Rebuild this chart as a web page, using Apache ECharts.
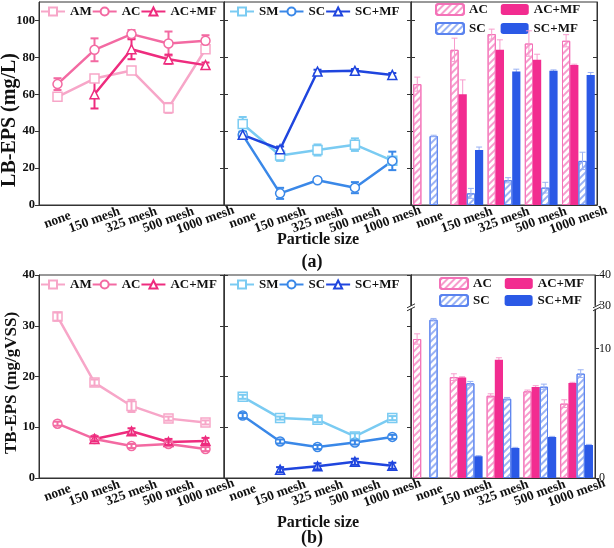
<!DOCTYPE html>
<html><head><meta charset="utf-8">
<script src="https://cdn.jsdelivr.net/npm/echarts@6/dist/echarts.min.js"></script>
<style>html,body{margin:0;padding:0;background:#fff}#c{width:614px;height:548px}</style>
</head><body><div id="c"></div>
<script>
// ---------- data ----------
const categories = ['none', '150 mesh', '325 mesh', '500 mesh', '1000 mesh'];

// (a) LB-EPS, line panels (mg/L)
const lbAM = [58.6, 68.5, 72.9, 52.6, 84.4];
const lbAMErr = [2, 1.5, 1.5, 2.7, 1.5];
const lbAC = [65.5, 84.1, 92.6, 87.5, 89.0];
const lbACErr = [3.2, 6.2, 2.2, 6.5, 3];
const lbACMF = [null, 60.0, 84.4, 79.0, 75.8];
const lbACMFErr = [null, 7.7, 5.4, 2.5, 1.4];
const lbSM = [43.9, 26.8, 29.8, 32.7, 24.0];
const lbSMErr = [3.8, 2.9, 3, 3.4, 2];
const lbSC = [38.0, 6.3, 13.4, 9.4, 23.9];
const lbSCErr = [1.5, 3, 1, 3, 5];
const lbSCMF = [38.0, 30.2, 72.3, 72.7, 70.5];
const lbSCMFErr = [1.5, 1.5, 1, 1, 1];

// (a) LB-EPS, bar panel
const lbBarAC = [65.5, 84.1, 92.6, 87.5, 89.0];
const lbBarACErr = [3.8, 6.3, 2.7, 6.9, 3.3];
const lbBarACMF = [null, 60.0, 84.1, 78.7, 75.8];
const lbBarACMFErr = [null, 7.8, 5.4, 3.0, 0.5];
const lbBarSC = [37.4, 6.3, 13.4, 9.4, 23.9];
const lbBarSCErr = [0.4, 2.7, 1.4, 2.9, 4.7];
const lbBarSCMF = [null, 29.8, 72.3, 72.7, 70.5];
const lbBarSCMFErr = [null, 1.6, 1.3, 0.5, 1.3];

// (b) TB-EPS, line panels (mg/gVSS)
const tbAM = [31.8, 18.8, 14.2, 11.7, 10.95];
const tbAMErr = [0.8, 0.6, 1.2, 0.4, 0.4];
const tbAC = [10.7, 7.7, 6.3, 6.7, 5.7];
const tbACErr = [0.4, 0.4, 0.4, 0.4, 0.4];
const tbACMF = [null, 7.7, 9.2, 7.1, 7.3];
const tbACMFErr = [null, 0.5, 0.6, 0.6, 0.6];
const tbSM = [16.0, 11.8, 11.5, 8.2, 11.8];
const tbSMErr = [0.4, 0.3, 0.5, 0.6, 0.4];
const tbSC = [12.3, 7.2, 6.1, 7.0, 8.1];
const tbSCErr = [0.5, 0.4, 0.4, 0.4, 0.4];
const tbSCMF = [null, 1.64, 2.3, 3.2, 2.4];
const tbSCMFErr = [null, 0.5, 0.6, 0.6, 0.6];

// (b) TB-EPS, bar panel
const tbBarAC = [10.75, 7.8, 6.36, 6.7, 5.75];
const tbBarACErr = [0.4, 0.26, 0.15, 0.1, 0.3];
const tbBarACMF = [null, 7.78, 9.15, 7.04, 7.35];
const tbBarACMFErr = [null, 0.05, 0.15, 0.1, 0.05];
const tbBarSC = [12.24, 7.32, 6.13, 7.06, 8.07];
const tbBarSCErr = [0.1, 0.15, 0.1, 0.2, 0.3];
const tbBarSCMF = [null, 1.68, 2.32, 3.17, 2.55];
const tbBarSCMFErr = [null, 0.05, 0.05, 0.05, 0.05];

// tick labels
const lbTicks = [0, 20, 40, 60, 80, 100];
const tbTicks = [0, 10, 20, 30, 40];
const tbBarTicks = [0, 10, 30, 40];   // broken axis labels

// ---------- styling ----------
const FONT = '"Liberation Serif","Times New Roman",serif';
const AX = '#333';
const C = {
  AM: '#f7a6c8', AC: '#f36aa2', ACMF: '#ee2c7e',
  SM: '#7acbf2', SC: '#3a88e8', SCMF: '#1f45de',
  bAC: '#f472b8', bACh: '#f79ccd', bACMF: '#f22c90',
  bSC: '#5a83ef', bSCh: '#9ab2f4', bSCMF: '#2b59e6'
};
const BAR_W = 8.2;

// broken axis for bottom-right panel: lower segment 0..13.1, upper 30..40 compressed
const BRK_LOW = 13.1, BRK_UP0 = 13.3, BRK_UPSCALE = 0.24;
function brk(v) { return v <= BRK_LOW ? v : BRK_UP0 + (v - 30) * BRK_UPSCALE; }

const grids = [
  {left: 39, top: 2, width: 185, height: 203},
  {left: 224, top: 2, width: 187, height: 203},
  {left: 411, top: 2, width: 186, height: 203},
  {left: 39, top: 275, width: 185, height: 203},
  {left: 224, top: 275, width: 187, height: 203},
  {left: 411, top: 275, width: 186, height: 203}
].map(g => Object.assign(g, {show: true, borderColor: AX, borderWidth: 1, backgroundColor: 'transparent', containLabel: false}));

const xAxes = grids.map((g, i) => ({
  type: 'category', gridIndex: i, data: categories, boundaryGap: true,
  axisLine: {lineStyle: {color: AX, width: 1}},
  axisTick: {alignWithLabel: true, length: 4, lineStyle: {color: AX}},
  axisLabel: {interval: 0, rotate: 20, align: 'center', verticalAlign: 'middle', margin: 15,
    fontFamily: FONT, fontWeight: 'bold', fontSize: 13.5, color: '#111'},
  splitLine: {show: false}
}));

function yAx(gi, pos, min, max, ticks, showLabels, inside, fmt) {
  return {
    type: 'value', gridIndex: gi, position: pos, min: min, max: max,
    axisLine: {show: true, lineStyle: {color: AX, width: 1}},
    axisTick: {show: true, inside: inside, length: 4, customValues: ticks, lineStyle: {color: AX}},
    axisLabel: {show: showLabels, customValues: ticks, formatter: fmt || (v => String(v)),
      fontFamily: FONT, fontWeight: 'bold', fontSize: 12.5, color: '#111', margin: 4},
    splitLine: {show: false}
  };
}
const tbBarMapped = tbBarTicks.map(brk);
const yAxes = [
  yAx(0, 'left', 0, 110, lbTicks, true, false), yAx(0, 'right', 0, 110, lbTicks, false, true),
  yAx(1, 'left', 0, 110, lbTicks, false, true), yAx(1, 'right', 0, 110, lbTicks, false, true),
  yAx(2, 'left', 0, 110, lbTicks, false, true), yAx(2, 'right', 0, 110, lbTicks, false, true),
  yAx(3, 'left', 0, 40, tbTicks, true, false), yAx(3, 'right', 0, 40, tbTicks, false, true),
  yAx(4, 'left', 0, 40, tbTicks, false, true), yAx(4, 'right', 0, 40, tbTicks, false, true),
  yAx(5, 'left', 0, brk(40), [], false, true),
  yAx(5, 'right', 0, brk(40), tbBarMapped, true, false,
      v => { const k = tbBarMapped.findIndex(m => Math.abs(m - v) < 1e-6); return k >= 0 ? String(tbBarTicks[k]) : ''; })
];
yAxes[11].axisLabel.fontWeight = 'normal';
yAxes[11].axisLabel.fontSize = 12;

const series = [];
function line(name, gi, data, color, symbol) {
  series.push({type: 'line', name: name, xAxisIndex: gi, yAxisIndex: 2 * gi, data: data,
    symbol: symbol, symbolSize: 9, showAllSymbol: true, z: 3,
    lineStyle: {color: color, width: 2.5}, itemStyle: {color: '#fff', borderColor: color, borderWidth: 1.5},
    emphasis: {disabled: true}, animation: false});
}
function err(gi, vals, errs, color, opts) {
  const data = [];
  vals.forEach((v, i) => { if (v != null && errs[i] != null) data.push([i, v, errs[i]]); });
  series.push({type: 'custom', name: 'err', xAxisIndex: gi, yAxisIndex: 2 * gi, data: data, z: opts.z, silent: true,
    animation: false,
    renderItem: function (params, api) {
      const x = api.value(0), v = api.value(1), e = api.value(2);
      const hi = api.coord([x, v + e]), lo = api.coord([x, v - e]);
      let cx = hi[0];
      if (opts.slot != null) cx += (opts.slot - 1.5) * BAR_W;
      const st = {stroke: color, lineWidth: opts.w};
      return {type: 'group', children: [
        {type: 'line', shape: {x1: cx, y1: hi[1], x2: cx, y2: lo[1]}, style: st},
        {type: 'line', shape: {x1: cx - opts.cap, y1: hi[1], x2: cx + opts.cap, y2: hi[1]}, style: st},
        {type: 'line', shape: {x1: cx - opts.cap, y1: lo[1], x2: cx + opts.cap, y2: lo[1]}, style: st}
      ]};
    }});
}
function bar(name, gi, data, color, hatch) {
  const it = hatch
    ? {color: '#fff', borderColor: color, borderWidth: 1,
       decal: {symbol: 'rect', symbolSize: 1, dashArrayX: [1, 0], dashArrayY: [1.2, 2.6], rotation: -Math.PI / 4, color: hatch}}
    : {color: color};
  series.push({type: 'bar', name: name, xAxisIndex: gi, yAxisIndex: 2 * gi, data: data, barWidth: BAR_W,
    barGap: '0%', itemStyle: it, z: 2, animation: false, emphasis: {disabled: true}});
}

// (a) lines
err(0, lbAM, lbAMErr, C.AM, {w: 2, cap: 4, z: 2});
err(0, lbAC, lbACErr, C.AC, {w: 2, cap: 4, z: 2});
err(0, lbACMF, lbACMFErr, C.ACMF, {w: 2, cap: 4, z: 2});
line('AM|l', 0, lbAM, C.AM, 'rect');
line('AC|l', 0, lbAC, C.AC, 'circle');
line('AC+MF|l', 0, lbACMF, C.ACMF, 'triangle');
err(1, lbSM, lbSMErr, C.SM, {w: 2, cap: 4, z: 2});
err(1, lbSC, lbSCErr, C.SC, {w: 2, cap: 4, z: 2});
err(1, lbSCMF, lbSCMFErr, C.SCMF, {w: 2, cap: 4, z: 2});
line('SM|l', 1, lbSM, C.SM, 'rect');
line('SC|l', 1, lbSC, C.SC, 'circle');
line('SC+MF|l', 1, lbSCMF, C.SCMF, 'triangle');
// (a) bars
bar('AC|b', 2, lbBarAC, C.bAC, C.bACh);
bar('AC+MF|b', 2, lbBarACMF, C.bACMF, null);
bar('SC|b', 2, lbBarSC, C.bSC, C.bSCh);
bar('SC+MF|b', 2, lbBarSCMF, C.bSCMF, null);
err(2, lbBarAC, lbBarACErr, C.bACh, {w: 1, cap: 3, z: 4, slot: 0});
err(2, lbBarACMF, lbBarACMFErr, C.bACh, {w: 1, cap: 3, z: 1, slot: 1});
err(2, lbBarSC, lbBarSCErr, C.bSCh, {w: 1, cap: 3, z: 4, slot: 2});
err(2, lbBarSCMF, lbBarSCMFErr, C.bSCh, {w: 1, cap: 3, z: 1, slot: 3});
// (b) lines
line('AM|l2', 3, tbAM, C.AM, 'rect');
line('AC|l2', 3, tbAC, C.AC, 'circle');
line('AC+MF|l2', 3, tbACMF, C.ACMF, 'triangle');
err(3, tbAM, tbAMErr, C.AM, {w: 2, cap: 4, z: 4});
err(3, tbAC, tbACErr, C.AC, {w: 2, cap: 4, z: 4});
err(3, tbACMF, tbACMFErr, C.ACMF, {w: 2, cap: 4, z: 4});
line('SM|l2', 4, tbSM, C.SM, 'rect');
line('SC|l2', 4, tbSC, C.SC, 'circle');
line('SC+MF|l2', 4, tbSCMF, C.SCMF, 'triangle');
err(4, tbSM, tbSMErr, C.SM, {w: 2, cap: 4, z: 4});
err(4, tbSC, tbSCErr, C.SC, {w: 2, cap: 4, z: 4});
err(4, tbSCMF, tbSCMFErr, C.SCMF, {w: 2, cap: 4, z: 4});
// (b) bars
bar('AC|b2', 5, tbBarAC, C.bAC, C.bACh);
bar('AC+MF|b2', 5, tbBarACMF, C.bACMF, null);
bar('SC|b2', 5, tbBarSC, C.bSC, C.bSCh);
bar('SC+MF|b2', 5, tbBarSCMF, C.bSCMF, null);
err(5, tbBarAC, tbBarACErr, C.bACh, {w: 1, cap: 3, z: 4, slot: 0});
err(5, tbBarACMF, tbBarACMFErr, C.bACh, {w: 1, cap: 3, z: 1, slot: 1});
err(5, tbBarSC, tbBarSCErr, C.bSCh, {w: 1, cap: 3, z: 4, slot: 2});
err(5, tbBarSCMF, tbBarSCMFErr, C.bSCh, {w: 1, cap: 3, z: 1, slot: 3});

const fmt = n => n.split('|')[0];
const legTxt = {fontFamily: FONT, fontWeight: 'bold', fontSize: 13, color: '#111'};
function lineLeg(left, top, data) {
  return {left: left, top: top, data: data, formatter: fmt, itemWidth: 24, itemHeight: 10, itemGap: 0,
    selectedMode: false, textStyle: legTxt, padding: 0};
}
function barLeg(left, top, data, gap) {
  return {left: left, top: top, data: data, formatter: fmt, itemWidth: 28, itemHeight: 11, itemGap: gap,
    selectedMode: false, textStyle: legTxt, padding: 0};
}
const legends = [
  lineLeg(40, 5, ['AM|l', 'AC|l', 'AC+MF|l']),
  lineLeg(229, 5, ['SM|l', 'SC|l', 'SC+MF|l']),
  barLeg(435, 3, ['AC|b', 'AC+MF|b'], 13),
  barLeg(435, 22, ['SC|b', 'SC+MF|b'], 15),
  lineLeg(40, 278, ['AM|l2', 'AC|l2', 'AC+MF|l2']),
  lineLeg(229, 278, ['SM|l2', 'SC|l2', 'SC+MF|l2']),
  barLeg(439, 277, ['AC|b2', 'AC+MF|b2'], 13),
  barLeg(439, 294, ['SC|b2', 'SC+MF|b2'], 15)
];

const chart = echarts.init(document.getElementById('c'), null, {renderer: 'canvas'});
const bold = sz => ({fontFamily: FONT, fontWeight: 'bold', fontSize: sz, fill: '#111', align: 'center', verticalAlign: 'middle'});
chart.setOption({
  animation: false,
  grid: grids, xAxis: xAxes, yAxis: yAxes, legend: legends, series: series,
  graphic: [
    {type: 'text', x: 10, y: 120, rotation: Math.PI / 2, style: Object.assign({text: 'LB-EPS (mg/L)'}, bold(20))},
    {type: 'text', x: 11.5, y: 383, rotation: Math.PI / 2, style: Object.assign({text: 'TB-EPS (mg/gVSS)'}, bold(17))},
    {type: 'text', x: 318, y: 240, style: Object.assign({text: 'Particle size'}, bold(16))},
    {type: 'text', x: 312, y: 262, style: Object.assign({text: '(a)'}, bold(18))},
    {type: 'text', x: 318, y: 523, style: Object.assign({text: 'Particle size'}, bold(16))},
    {type: 'text', x: 312, y: 538, style: Object.assign({text: '(b)'}, bold(18))}
  ]
});
// axis break marks on the bottom-right panel
const yb = chart.convertToPixel({yAxisIndex: 10}, (BRK_LOW + BRK_UP0) / 2);
const marks = [];
[411, 597].forEach(x => {
  marks.push({type: 'rect', shape: {x: x - 3, y: yb - 1.5, width: 6, height: 3}, style: {fill: '#fff'}, z: 100});
  marks.push({type: 'line', shape: {x1: x - 4, y1: yb + 0.5, x2: x + 4, y2: yb - 3.5}, style: {stroke: AX, lineWidth: 1}, z: 101});
  marks.push({type: 'line', shape: {x1: x - 4, y1: yb + 3.5, x2: x + 4, y2: yb - 0.5}, style: {stroke: AX, lineWidth: 1}, z: 101});
});
chart.setOption({graphic: marks.map((m, i) => Object.assign({id: 'brk' + i}, m))});
</script>
</body></html>
